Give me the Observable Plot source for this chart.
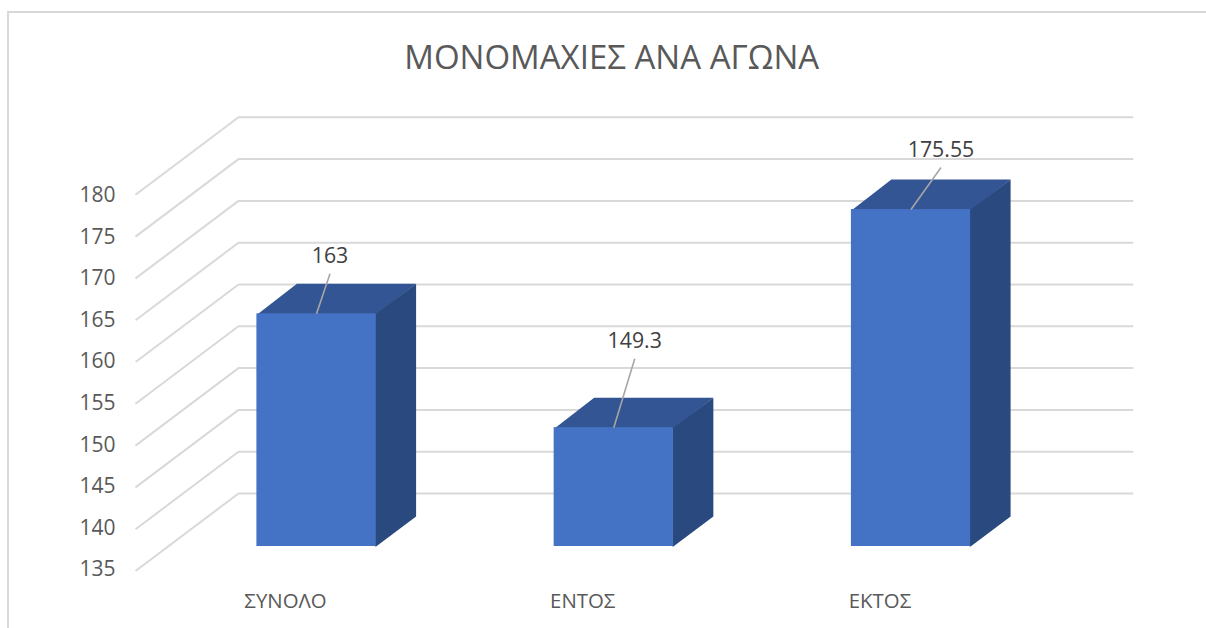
<!DOCTYPE html>
<html>
<head>
<meta charset="utf-8">
<script src="https://cdn.jsdelivr.net/npm/d3@7"></script>
<script src="https://cdn.jsdelivr.net/npm/@observablehq/plot@0.6"></script>
<style>
html,body{margin:0;padding:0;background:#fff;overflow:hidden}
#frame{position:absolute;left:7px;top:11px;right:0;bottom:0;border-top:2px solid #d9d9d9;border-left:2px solid #d9d9d9}
#chart{position:absolute;left:0;top:0}
svg{background:transparent !important}
</style>
</head>
<body>
<div id="frame"></div>
<div id="chart"></div>
<script>
const chartTitle = "ΜΟΝΟΜΑΧΙΕΣ ΑΝΑ ΑΓΩΝΑ";
const categories = ["ΣΥΝΟΛΟ", "ΕΝΤΟΣ", "ΕΚΤΟΣ"];
const values = [163, 149.3, 175.55];
const yTicks = [135, 140, 145, 150, 155, 160, 165, 170, 175, 180];

const font = "'Open Sans', 'Noto Sans', sans-serif";
const unitX = 297.25, unitY = 8.31;       // pixels per scale unit
const px = p => p / unitX, py = p => p / unitY;
const baseline = yTicks[0];
const halfBar = px(59.6), depthX = px(40), depthY = py(30);
const gridL = px(-180.3), gridB = px(-78), gridR = px(816);
const gridDrop = py(24), gridLift = py(53), gridStretch = 1.006;

const rows = categories.map((c, i) => ({c, i, v: values[i]}));

// Extruded faces of each column, in scale units (tucked slightly under the front face)
const faceTop = rows.flatMap(r => [
  [r.i - halfBar, r.v - py(1)], [r.i + halfBar, r.v - py(1)],
  [r.i + halfBar + depthX, r.v + depthY], [r.i - halfBar + depthX, r.v + depthY]
].map(([x, y]) => ({x, y, k: r.i})));
const faceSide = rows.flatMap(r => [
  [r.i + halfBar - px(1), baseline], [r.i + halfBar - px(1), r.v],
  [r.i + halfBar, r.v],
  [r.i + halfBar + depthX, r.v + depthY], [r.i + halfBar + depthX, baseline + depthY], [r.i + halfBar, baseline]
].map(([x, y]) => ({x, y, k: r.i})));

// Floor-to-back-wall gridlines
const level = t => baseline + (t - baseline) * gridStretch;
const grid = yTicks.flatMap(t => [
  {x: gridL, y: level(t) - gridDrop, k: t},
  {x: gridB, y: level(t) + gridLift, k: t},
  {x: gridR, y: level(t) + gridLift, k: t}
]);

// Leader-line offsets for the data labels
const leadX = [px(13.5), px(21), px(30)];
const leadY = [py(40), py(69), py(42)];
const leaders = rows.map(r => ({x1: r.i, y1: r.v, x2: r.i + leadX[r.i], y2: r.v + leadY[r.i], label: String(r.v)}));

const chart = Plot.plot({
  width: 1206, height: 628,
  marginLeft: 115, marginRight: 0, marginTop: 0, marginBottom: 35,
  style: {background: "transparent", fontFamily: font},
  x: {domain: [0, 2], range: [316, 910.5], axis: null},
  y: {domain: [135, 180], range: [546, 546 - 45 * unitY], axis: null},
  marks: [
    Plot.line(grid, {x: "x", y: "y", z: "k", stroke: "#d9d9d9", strokeWidth: 2}),
    Plot.line(faceTop, {x: "x", y: "y", z: "k", fill: "#335593", stroke: "none"}),
    Plot.line(faceSide, {x: "x", y: "y", z: "k", fill: "#2a4a7f", stroke: "none"}),
    Plot.rect(rows, {x1: r => r.i - halfBar, x2: r => r.i + halfBar, y1: baseline, y2: "v", fill: "#4472c4"}),
    Plot.link(leaders, {x1: "x1", y1: "y1", x2: "x2", y2: "y2", stroke: "#a6a6a6", strokeWidth: 1.6}),
    Plot.text(leaders, {x: "x2", y: "y2", text: "label", dy: -17.5, fontSize: 21.3, fill: "#404040", fontFamily: font}),
    Plot.axisY(yTicks, {anchor: "left", tickSize: 0, tickPadding: 0, dy: 23, label: null, fontSize: 21, color: "#595959", fontFamily: font, tickFormat: d => String(d)}),
    Plot.axisX([0, 1, 2], {anchor: "bottom", tickSize: 0, tickPadding: 0, dx: -31, dy: 0, label: null, fontSize: 20.4, color: "#595959", fontFamily: font, tickFormat: d => categories[d]}),
    Plot.text([chartTitle], {x: () => 0.993, frameAnchor: "top", dy: 45, fontSize: 33, fill: "#595959", fontFamily: font})
  ]
});
document.getElementById("chart").appendChild(chart);
</script>
</body>
</html>
